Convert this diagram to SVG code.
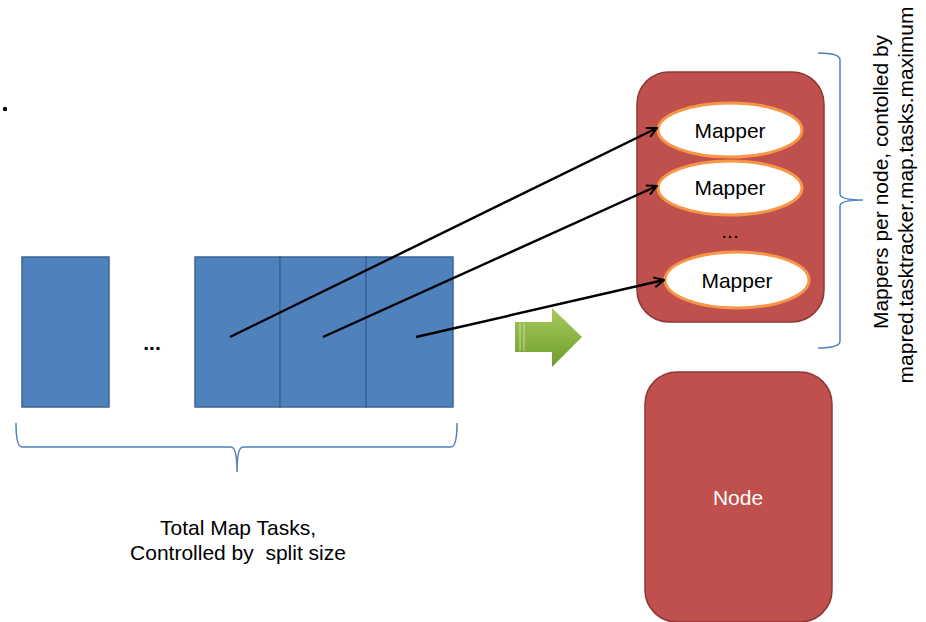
<svg xmlns="http://www.w3.org/2000/svg" width="926" height="622" viewBox="0 0 926 622">
<defs>
<style>
.t{font-family:"Liberation Sans",Arial,sans-serif;font-size:21px;fill:#000}
.blk{fill:#4F81BD;stroke:#3A6494;stroke-width:1.5}
.host{fill:#C0504D;stroke:#8C3836;stroke-width:1.5}
.map{fill:#fff;stroke:#F79646;stroke-width:3}
.brace{fill:none;stroke:#4F81BD;stroke-width:1.5}
.con{fill:none;stroke:#000;stroke-width:2.4}
</style>
<marker id="ah" viewBox="0 0 12 12" refX="11" refY="6" markerWidth="12" markerHeight="12" markerUnits="userSpaceOnUse" orient="auto">
<path d="M1,1 L11,6 L1,11" fill="none" stroke="#000" stroke-width="2"/>
</marker>
<linearGradient id="g" x1="0" y1="0" x2="0" y2="1">
<stop offset="0" stop-color="#A9CC5E"/>
<stop offset="1" stop-color="#6E9A2C"/>
</linearGradient>
</defs>
<rect width="926" height="622" fill="#fff"/>
<circle cx="5" cy="109" r="2.2" fill="#000"/>
<g id="blocks">
<rect class="blk" x="22" y="257" width="87" height="150"/>
<rect class="blk" x="195" y="257" width="85" height="150"/>
<rect class="blk" x="280" y="257" width="86" height="150"/>
<rect class="blk" x="366" y="257" width="87" height="150"/>
<text x="152" y="350" class="t" text-anchor="middle" font-weight="bold" font-size="34">...</text>
</g>
<g id="brace-bottom">
<path class="brace" d="M16,423 Q16,447 22,447 L231,447 Q237,447 237,472 Q237,447 243,447 L451,447 Q457,447 457,423"/>
<text class="t" x="238" y="535" text-anchor="middle">Total Map Tasks,</text>
<text class="t" x="238" y="560" text-anchor="middle" xml:space="preserve">Controlled by  split size</text>
</g>
<g id="green-arrow">
<path d="M515,322 L552,322 L552,308 L582,337 L552,367 L552,352 L515,352 Z" fill="url(#g)"/>
<line x1="520" y1="323" x2="520" y2="351" stroke="#C6DF9A" stroke-width="1"/>
<line x1="524" y1="323" x2="524" y2="351" stroke="#C6DF9A" stroke-width="1"/>
</g>
<g id="node1">
<rect class="host" x="637" y="72" width="187" height="250" rx="32"/>
<g id="mapper1">
<ellipse class="map" cx="730" cy="130" rx="72" ry="27"/>
<text class="t" x="730" y="138" text-anchor="middle">Mapper</text>
</g>
<g id="mapper2">
<ellipse class="map" cx="730" cy="188" rx="72" ry="27"/>
<text class="t" x="730" y="195" text-anchor="middle">Mapper</text>
</g>
<text class="t" x="730" y="238" text-anchor="middle" font-size="16">...</text>
<g id="mapper3">
<ellipse class="map" cx="737" cy="280" rx="72" ry="28"/>
<text class="t" x="737" y="288" text-anchor="middle">Mapper</text>
</g>
</g>
<g id="node2">
<rect class="host" x="645" y="372" width="187" height="250" rx="32"/>
<text class="t" x="738" y="505" text-anchor="middle" style="fill:#fff">Node</text>
</g>
<g id="brace-right">
<path class="brace" d="M818,53 Q840,53 840,60 L840,194 Q840,200 863,200 Q840,200 840,206 L840,341 Q840,348 818,348"/>
<text class="t" transform="translate(888,182) rotate(-90)" text-anchor="middle">Mappers per node, contolled by</text>
<text class="t" transform="translate(913,195) rotate(-90)" text-anchor="middle">mapred.tasktracker.map.tasks.maximum</text>
</g>
<g id="connectors">
<line class="con" x1="230" y1="337" x2="657" y2="128" marker-end="url(#ah)"/>
<line class="con" x1="323" y1="337" x2="657" y2="186" marker-end="url(#ah)"/>
<line class="con" x1="416" y1="337" x2="664" y2="280" marker-end="url(#ah)"/>
</g>
</svg>
